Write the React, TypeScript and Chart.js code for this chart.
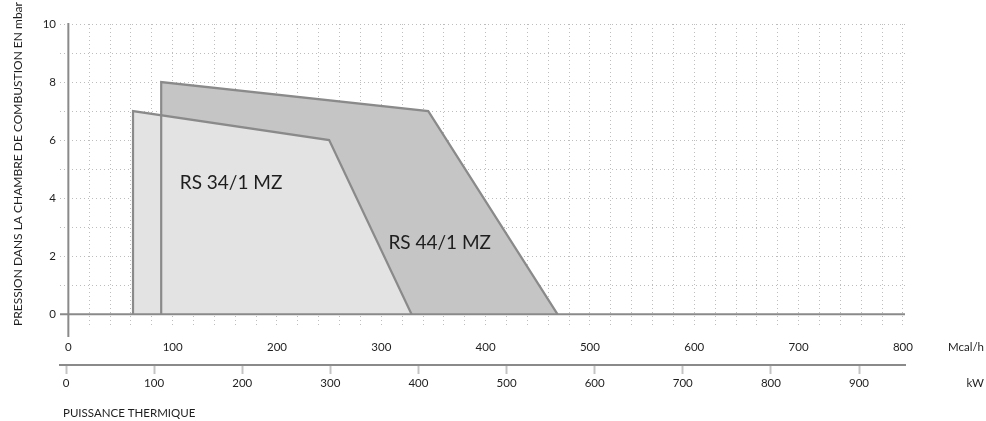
import React, { useEffect, useRef } from 'react';
import { Chart, registerables } from 'chart.js';

Chart.register(...registerables);

// ---- data ----
const seriesNames = ['RS 34/1 MZ', 'RS 44/1 MZ'];
const rs34Power = [62, 62, 250, 329]; // Mcal/h
const rs34Pressure = [0, 7, 6, 0]; // mbar
const rs44Power = [89, 89, 345, 469];
const rs44Pressure = [0, 8, 7, 0];
const labelPower = [156, 356];
const labelPressure = [4.52, 2.46];

const mcalTickLabels = [0, 100, 200, 300, 400, 500, 600, 700, 800];
const kwTickLabels = [0, 100, 200, 300, 400, 500, 600, 700, 800, 900];
const pressureTickLabels = [0, 2, 4, 6, 8, 10];
const mcalGridStep = 20;
const pressureGridStep = 1;

const yTitle = 'PRESSION DANS LA CHAMBRE DE COMBUSTION EN mbar';
const mcalUnit = 'Mcal/h';
const kwUnit = 'kW';
const xTitle = 'PUISSANCE THERMIQUE';

// ---- styles ----
const FONT = 'Lato';
const TEXT = '#1e1e1e';
const AXIS = '#8a8a8a';
const GRID = '#bdbdbd';
const FILL_LIGHT = '#e3e3e3';
const FILL_DARK = '#c5c5c5';

const toPts = (xs: number[], ys: number[]) => xs.map((x, i) => ({ x, y: ys[i] }));

const stepValues = (from: number, to: number, step: number) => {
  const out: { value: number }[] = [];
  for (let v = from; v <= to + 1e-9; v += step) out.push({ value: Math.round(v * 1000) / 1000 });
  return out;
};

const overlay = {
  id: 'overlay',
  afterDatasetsDraw(chart: any) {
    const { ctx, chartArea, scales } = chart;
    const x = scales.x;
    const y = scales.y;
    ctx.save();
    ctx.strokeStyle = AXIS;
    ctx.lineWidth = 2;
    ctx.setLineDash([]);
    const y0 = y.getPixelForValue(0);
    ctx.beginPath();
    ctx.moveTo(chartArea.left, y0);
    ctx.lineTo(chartArea.right, y0);
    ctx.stroke();
    const x0 = x.getPixelForValue(0);
    ctx.beginPath();
    ctx.moveTo(x0, y.getPixelForValue(10) - 1);
    ctx.lineTo(x0, chartArea.bottom + 9);
    ctx.stroke();

    // series labels
    ctx.fillStyle = TEXT;
    ctx.font = `19px ${FONT}`;
    ctx.textAlign = 'center';
    ctx.textBaseline = 'middle';
    seriesNames.forEach((n, i) => {
      ctx.fillText(n, x.getPixelForValue(labelPower[i]), y.getPixelForValue(labelPressure[i]));
    });

    // unit labels
    ctx.font = `11.5px ${FONT}`;
    ctx.textAlign = 'right';
    ctx.fillText(mcalUnit, 984, 347);
    ctx.fillText(kwUnit, 984, 383);
    ctx.textAlign = 'left';
    ctx.fillText(xTitle, 63, 413);

    // y title
    ctx.save();
    ctx.translate(18.5, 164);
    ctx.rotate(-Math.PI / 2);
    ctx.textAlign = 'center';
    ctx.font = `12px ${FONT}`;
    ctx.fillText(yTitle, 0, 0);
    ctx.restore();
    ctx.restore();
  },
};

export default function App() {
  const ref = useRef<HTMLCanvasElement | null>(null);
  useEffect(() => {
    if (!ref.current) return;
    const chart = new Chart(ref.current, {
      type: 'scatter',
      data: {
        datasets: [
          {
            label: seriesNames[1] + ' fill',
            data: toPts(rs44Power, rs44Pressure),
            showLine: true,
            fill: 'origin',
            backgroundColor: FILL_DARK,
            borderWidth: 0,
            borderColor: 'rgba(0,0,0,0)',
            pointRadius: 0,
            order: 4,
          },
          {
            label: seriesNames[0] + ' fill',
            data: toPts(rs34Power, rs34Pressure),
            showLine: true,
            fill: 'origin',
            backgroundColor: FILL_LIGHT,
            borderWidth: 0,
            borderColor: 'rgba(0,0,0,0)',
            pointRadius: 0,
            order: 3,
          },
          {
            label: seriesNames[1],
            data: toPts(rs44Power, rs44Pressure),
            showLine: true,
            fill: false,
            borderColor: AXIS,
            borderWidth: 2.2,
            borderJoinStyle: 'miter',
            pointRadius: 0,
            order: 2,
          },
          {
            label: seriesNames[0],
            data: toPts(rs34Power, rs34Pressure),
            showLine: true,
            fill: false,
            borderColor: AXIS,
            borderWidth: 2.2,
            borderJoinStyle: 'miter',
            pointRadius: 0,
            order: 1,
          },
        ],
      },
      options: {
        responsive: false,
        animation: false,
        events: [],
        layout: { padding: { left: 0, top: 24, right: 81, bottom: 0 } },
        font: { family: FONT },
        plugins: {
          legend: { display: false },
          tooltip: { enabled: false },
          title: { display: false },
        },
        scales: {
          x: {
            type: 'linear',
            position: 'bottom',
            weight: 0,
            min: -8,
            max: 802,
            afterBuildTicks: (s: any) => {
              s.ticks = stepValues(0, 800, mcalGridStep);
            },
            afterFit: (s: any) => {
              s.height = 37;
            },
            ticks: {
              autoSkip: false,
              includeBounds: false,
              maxRotation: 0,
              minRotation: 0,
              padding: 12,
              color: TEXT,
              font: { family: FONT, size: 11.5 },
              callback: (v: any) => (mcalTickLabels.includes(v) ? String(v) : ''),
            },
            grid: { color: GRID, lineWidth: 1, drawTicks: false },
            border: { display: false, dash: [1, 3] },
          },
          x2: {
            type: 'linear',
            position: 'bottom',
            weight: 1,
            min: -6.81,
            max: 952.2,
            afterBuildTicks: (s: any) => {
              s.ticks = kwTickLabels.map((v) => ({ value: v }));
            },
            afterFit: (s: any) => {
              s.height = 56;
            },
            ticks: {
              autoSkip: false,
              includeBounds: false,
              maxRotation: 0,
              minRotation: 0,
              padding: 2,
              color: TEXT,
              font: { family: FONT, size: 11.5 },
              callback: (v: any) => String(v),
            },
            grid: {
              drawOnChartArea: false,
              drawTicks: true,
              tickLength: 9,
              tickColor: '#c4c4c4',
              tickWidth: 2,
            },
            border: { display: true, color: AXIS, width: 2 },
          },
          y: {
            type: 'linear',
            min: -0.472,
            max: 10,
            afterBuildTicks: (s: any) => {
              s.ticks = stepValues(0, 10, pressureGridStep);
            },
            afterFit: (s: any) => {
              s.width = 60;
            },
            ticks: {
              autoSkip: false,
              includeBounds: false,
              padding: 4,
              color: TEXT,
              font: { family: FONT, size: 11.5 },
              callback: (v: any) => (pressureTickLabels.includes(v) ? String(v) : ''),
            },
            grid: { color: GRID, lineWidth: 1, drawTicks: false },
            border: { display: false, dash: [1, 3] },
          },
        },
      } as any,
      plugins: [overlay],
    });
    return () => chart.destroy();
  }, []);

  return (
    <div style={{ position: 'absolute', left: 0, top: 0, width: 986, height: 421 }}>
      <canvas ref={ref} width={986} height={421} style={{ width: 986, height: 421 }} />
    </div>
  );
}
